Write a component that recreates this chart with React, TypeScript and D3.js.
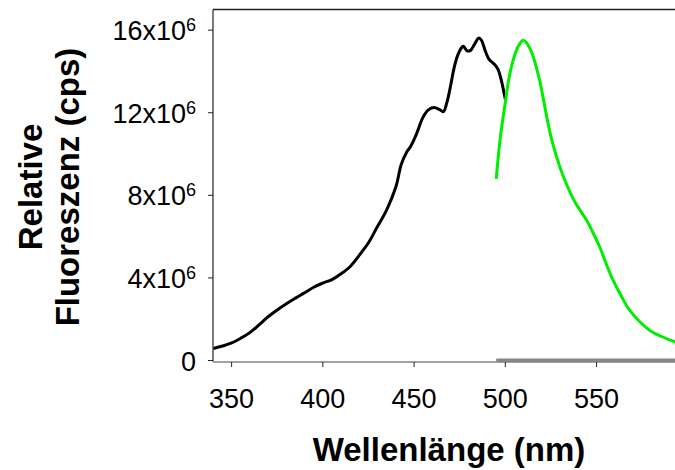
import * as d3 from "d3";

// excitation spectrum (black), wavelength nm / counts in 1e6 cps
const exWave = [340, 345, 350, 355, 360, 365, 370, 375, 380, 385, 390, 395, 400, 405, 410, 415, 420, 425, 430, 435, 440, 443, 446, 448, 451, 455, 458, 461, 464, 466, 468, 470, 472, 474, 476, 477, 479, 481, 483, 485.5, 487, 489, 491, 494, 496, 498, 500];
const exValue = [0.58, 0.7, 0.85, 1.08, 1.35, 1.72, 2.12, 2.45, 2.75, 3.02, 3.28, 3.55, 3.75, 3.92, 4.2, 4.55, 5.1, 5.7, 6.5, 7.3, 8.4, 9.5, 10.1, 10.35, 10.9, 11.8, 12.15, 12.25, 12.15, 12.05, 12.5, 13.3, 14.2, 14.8, 15.15, 15.22, 15.0, 15.02, 15.3, 15.62, 15.5, 15.0, 14.6, 14.35, 14.1, 13.5, 12.65];

// emission spectrum (green)
const emWave = [495, 497, 498, 500, 501.5, 503, 505, 507, 509.5, 511, 513, 515, 517, 519, 521, 523.5, 526, 530, 533.5, 538, 544.5, 548, 552, 555, 559, 564, 568, 574, 579, 586, 593, 600];
const emValue = [8.8, 10.6, 11.3, 12.5, 13.4, 14.1, 14.75, 15.2, 15.5, 15.45, 15.2, 14.8, 14.2, 13.5, 12.6, 11.45, 10.5, 9.35, 8.55, 7.7, 6.8, 6.2, 5.45, 4.75, 3.9, 3.05, 2.45, 1.85, 1.47, 1.15, 0.9, 0.7];

// blank (grey)
const blankWave = [495, 600];
const blankValue = [0.03, 0.03];

const xTicks = [350, 400, 450, 500, 550];
const yTicks = [0, 4, 8, 12, 16];

export default function App() {
    const width = 675;
    const height = 470;
    const left = 213;
    const right = 675;
    const top = 9.5;
    const bottom = 360.5;

    const x = d3.scaleLinear().domain([339.8, 593]).range([left, right]);
    const y = d3.scaleLinear().domain([0, 17]).range([bottom, top]);

    const line = d3.line<[number, number]>()
        .x((d) => x(d[0]))
        .y((d) => y(d[1]))
        .curve(d3.curveCatmullRom);

    const ex = exWave.map((w, i) => [w, exValue[i]] as [number, number]);
    const em = emWave.map((w, i) => [w, emValue[i]] as [number, number]);
    const blank = blankWave.map((w, i) => [w, blankValue[i]] as [number, number]);

    const font = "'Liberation Sans', Arial, sans-serif";

    return (
        <svg width={width} height={height} style={{ position: "absolute", left: 0, top: 0 }} fontFamily={font}>
            <defs>
                <clipPath id="plot">
                    <rect x={left} y={top} width={right - left} height={bottom - top + 2} />
                </clipPath>
            </defs>
            <rect width={width} height={height} fill="white" />

            <g clipPath="url(#plot)">
                <path d={line(blank) ?? ""} fill="none" stroke="#888" strokeWidth={3} />
                <path d={line(ex) ?? ""} fill="none" stroke="black" strokeWidth={3} />
                <path d={line(em) ?? ""} fill="none" stroke="#00ee00" strokeWidth={3} />
            </g>

            {/* frame */}
            <line x1={left} y1={top} x2={right} y2={top} stroke="#222" strokeWidth={1.5} />
            <line x1={left} y1={top} x2={left} y2={bottom + 1} stroke="#222" strokeWidth={1.2} />
            <line x1={left} y1={bottom + 1.5} x2={right} y2={bottom + 1.5} stroke="#444" strokeWidth={1} />

            {xTicks.map((t) => (
                <g key={`x-${t}`} transform={`translate(${x(t)}, ${bottom + 1.5})`}>
                    <line y1={0} y2={5} stroke="#222" />
                    <text y={46} textAnchor="middle" fontSize={27}>{t}</text>
                </g>
            ))}

            {yTicks.map((t) => (
                <g key={`y-${t}`} transform={`translate(${left}, ${y(t)})`}>
                    <line x1={0} x2={-5} stroke="#222" />
                    <text x={-17} y={10} textAnchor="end" fontSize={27}>
                        {t === 0 ? "0" : (
                            <>
                                {`${t}x10`}
                                <tspan fontSize={18} dy={-9}>6</tspan>
                            </>
                        )}
                    </text>
                </g>
            ))}

            <text x={449} y={461} textAnchor="middle" fontSize={33} fontWeight="bold">Wellenlänge (nm)</text>

            <g transform="translate(42, 187) rotate(-90)">
                <text x={0} y={0} textAnchor="middle" fontSize={33} fontWeight="bold">Relative</text>
                <text x={0} y={37} textAnchor="middle" fontSize={33} fontWeight="bold">Fluoreszenz (cps)</text>
            </g>
        </svg>
    );
}
